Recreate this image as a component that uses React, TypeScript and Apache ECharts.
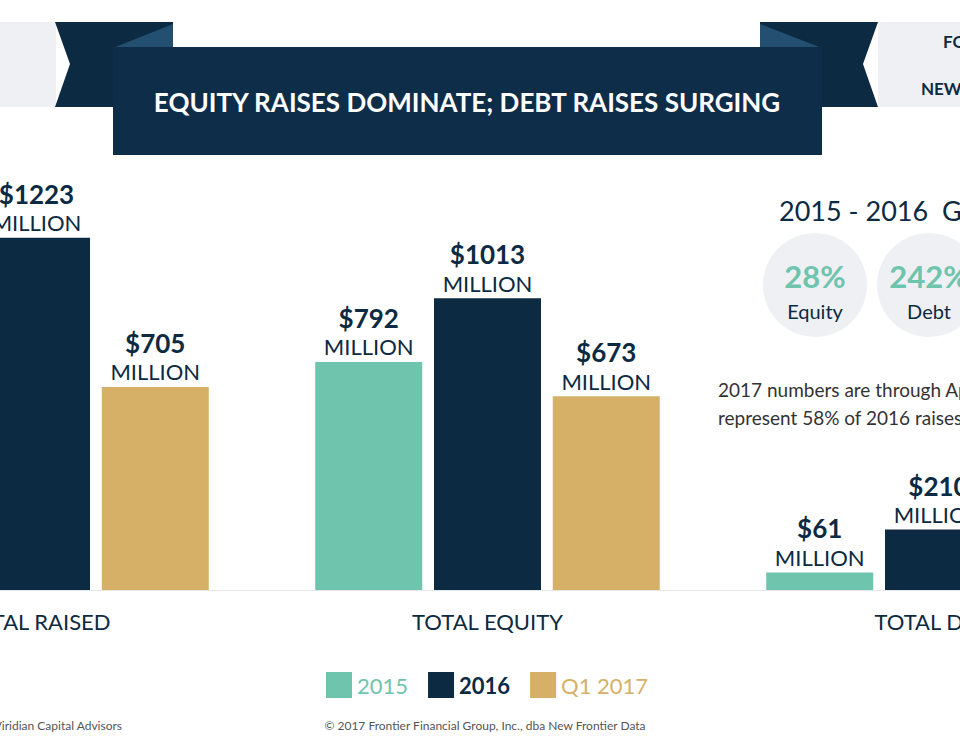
import React, { useEffect, useRef } from "react";
import * as echarts from "echarts";

const categories = ["TOTAL RAISED", "TOTAL EQUITY", "TOTAL DEBT"];
const seriesNames = ["2015", "2016", "Q1 2017"];
const values2015 = [853, 792, 61];
const values2016 = [1223, 1013, 210];
const valuesQ12017 = [705, 673, 32];
const growthLabels = ["28%", "242%"];
const growthNames = ["Equity", "Debt"];

const TEAL = "#6fc4ad";
const NAVY = "#0c2a42";
const GOLD = "#d7b068";
const BANNER = "#0e2d49";
const FOLD = "#234f70";
const LIGHT = "#eef0f3";
const FONT = "Lato, 'Open Sans', sans-serif";

export default function App() {
  const ref = useRef<HTMLDivElement>(null);
  useEffect(() => {
    document.body.style.margin = "0";
    const chart = echarts.init(ref.current!, null, { renderer: "svg" });
    const label = {
      show: true,
      position: "top",
      distance: 2,
      formatter: (p: any) => `{v|$${p.value}}\n{m|MILLION}`,
      rich: {
        v: { fontSize: 26, fontWeight: "bold", color: NAVY, lineHeight: 32, fontFamily: FONT },
        m: { fontSize: 22, color: NAVY, lineHeight: 26, fontFamily: FONT },
      },
    };
    const colors = [TEAL, NAVY, GOLD];
    const data = [values2015, values2016, valuesQ12017];
    chart.setOption({
      animation: false,
      backgroundColor: "#ffffff",
      // the reference is a crop of a wider infographic: the grid runs past both edges
      grid: { left: -189, width: 1353, top: 158, height: 432, outerBoundsMode: "none", containLabel: false },
      legend: {
        left: 326,
        top: 672,
        padding: 0,
        itemWidth: 26,
        itemHeight: 26,
        itemGap: 20,
        icon: "rect",
        data: seriesNames.map((n, i) => ({
          name: n,
          textStyle: {
            color: colors[i],
            fontSize: 22,
            fontFamily: FONT,
            fontWeight: i === 1 ? "bold" : "normal",
          },
        })),
      },
      xAxis: {
        type: "category",
        data: categories,
        axisTick: { show: false },
        axisLine: { show: true, lineStyle: { color: "#e6e6e6", width: 1 } },
        axisLabel: { interval: 0, color: NAVY, fontSize: 22, fontFamily: FONT, margin: 20 },
      },
      yAxis: { type: "value", min: 0, max: 1500, show: false, splitLine: { show: false } },
      series: seriesNames.map((n, i) => ({
        name: n,
        type: "bar",
        data: data[i],
        barWidth: 107,
        barGap: "11%",
        itemStyle: { color: colors[i] },
        label,
      })),
      graphic: [
        { type: "rect", shape: { x: 0, y: 22, width: 56, height: 85 }, style: { fill: LIGHT } },
        {
          type: "polygon",
          shape: { points: [[55, 22], [173, 22], [173, 107], [55, 107], [70, 64]] },
          style: { fill: NAVY },
        },
        {
          type: "polygon",
          shape: { points: [[113, 48], [173, 24], [173, 48]] },
          style: { fill: FOLD },
        },
        { type: "rect", shape: { x: 878, y: 22, width: 82, height: 85 }, style: { fill: LIGHT } },
        {
          type: "polygon",
          shape: { points: [[760, 22], [878, 22], [863, 64], [878, 107], [760, 107]] },
          style: { fill: NAVY },
        },
        {
          type: "polygon",
          shape: { points: [[760, 24], [822, 48], [760, 48]] },
          style: { fill: FOLD },
        },
        { type: "rect", shape: { x: 113, y: 47, width: 709, height: 108 }, style: { fill: BANNER } },
        {
          type: "text",
          x: 467,
          y: 102,
          style: {
            text: "EQUITY RAISES DOMINATE; DEBT RAISES SURGING",
            fill: "#ffffff",
            font: `bold 26px ${FONT}`,
            textAlign: "center",
            textVerticalAlign: "middle",
          },
        },
        {
          type: "text",
          x: 943,
          y: 41,
          style: { text: "FOR MORE", fill: NAVY, font: `bold 17px ${FONT}`, textAlign: "left", textVerticalAlign: "middle" },
        },
        {
          type: "text",
          x: 921,
          y: 88,
          style: { text: "NEW FRONTIER", fill: NAVY, font: `bold 17px ${FONT}`, textAlign: "left", textVerticalAlign: "middle" },
        },
        {
          type: "text",
          x: 779,
          y: 210,
          style: { text: "2015 - 2016  GROWTH", fill: NAVY, font: `27px ${FONT}`, textAlign: "left", textVerticalAlign: "middle" },
        },
        { type: "circle", shape: { cx: 815, cy: 285, r: 52 }, style: { fill: LIGHT } },
        { type: "circle", shape: { cx: 929, cy: 285, r: 52 }, style: { fill: LIGHT } },
        {
          type: "text",
          x: 815,
          y: 276,
          style: { text: growthLabels[0], fill: TEAL, font: `bold 31px ${FONT}`, textAlign: "center", textVerticalAlign: "middle" },
        },
        {
          type: "text",
          x: 815,
          y: 311,
          style: { text: growthNames[0], fill: NAVY, font: `20px ${FONT}`, textAlign: "center", textVerticalAlign: "middle" },
        },
        {
          type: "text",
          x: 929,
          y: 276,
          style: { text: growthLabels[1], fill: TEAL, font: `bold 31px ${FONT}`, textAlign: "center", textVerticalAlign: "middle" },
        },
        {
          type: "text",
          x: 929,
          y: 311,
          style: { text: growthNames[1], fill: NAVY, font: `20px ${FONT}`, textAlign: "center", textVerticalAlign: "middle" },
        },
        {
          type: "text",
          x: 718,
          y: 389,
          style: { text: "2017 numbers are through April and", fill: "#333333", font: `19px ${FONT}`, textAlign: "left", textVerticalAlign: "middle" },
        },
        {
          type: "text",
          x: 718,
          y: 417,
          style: { text: "represent 58% of 2016 raises", fill: "#333333", font: `19px ${FONT}`, textAlign: "left", textVerticalAlign: "middle" },
        },
        {
          type: "text",
          x: 122,
          y: 725,
          style: { text: "Source: Viridian Capital Advisors", fill: "#555555", font: `12px ${FONT}`, textAlign: "right", textVerticalAlign: "middle" },
        },
        {
          type: "text",
          x: 485,
          y: 725,
          style: {
            text: "© 2017 Frontier Financial Group, Inc., dba New Frontier Data",
            fill: "#555555",
            font: `12px ${FONT}`,
            textAlign: "center",
            textVerticalAlign: "middle",
          },
        },
      ],
    });
    return () => chart.dispose();
  }, []);
  return <div ref={ref} style={{ width: 960, height: 750 }} />;
}
